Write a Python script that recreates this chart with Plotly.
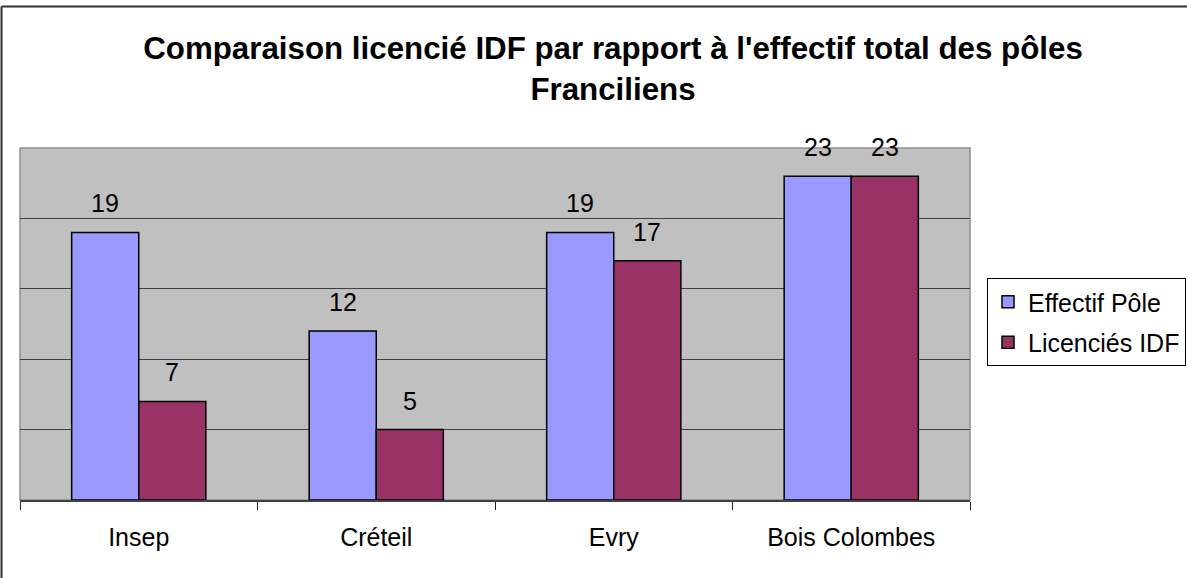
import plotly.graph_objects as go

categories = ["Insep", "Créteil", "Evry", "Bois Colombes"]
effectif_pole = [19, 12, 19, 23]
licencies_idf = [7, 5, 17, 23]
series_names = ["Effectif Pôle", "Licenciés IDF"]
title_text = "Comparaison licencié IDF par rapport à l'effectif total des pôles<br>Franciliens"

W, H = 1187, 578
ml, mr, mt, mb = 20, 217, 148, 78
plot_w = W - ml - mr
plot_h = H - mt - mb
bargap = 0.435
font_family = "Arial, Liberation Sans, sans-serif"
lab_size = 25

fig = go.Figure()
colors = ["#9999FF", "#993366"]
for name, vals, col in zip(series_names, [effectif_pole, licencies_idf], colors):
    fig.add_trace(go.Bar(
        x=categories, y=vals, name=name, legendgroup=name,
        marker=dict(color=col, line=dict(color="black", width=1.5)),
    ))

# data labels via annotations, shifted to each bar of the group
cat_px = plot_w / len(categories)
shift = cat_px * (1 - bargap) / 4
for k, vals in enumerate([effectif_pole, licencies_idf]):
    for c, v in zip(categories, vals):
        fig.add_annotation(
            x=c, y=v, text=str(v), showarrow=False,
            xshift=-shift if k == 0 else shift, yshift=13,
            yanchor="bottom", font=dict(size=lab_size, color="black", family=font_family),
        )

# outer chart border (top & left)
top_y = (plot_h + mt - 6.5) / plot_h
left_x = (1.5 - ml) / plot_w
fig.add_shape(type="line", xref="paper", yref="paper",
              x0=left_x, x1=(W - ml) / plot_w, y0=top_y, y1=top_y,
              line=dict(color="#333333", width=2), layer="above")
fig.add_shape(type="line", xref="paper", yref="paper",
              x0=left_x, x1=left_x, y0=top_y, y1=-mb / plot_h,
              line=dict(color="#333333", width=2), layer="above")
# plot area border
fig.add_shape(type="rect", xref="paper", yref="paper", x0=0, x1=1, y0=0, y1=1,
              line=dict(color="#909090", width=1.5), layer="below")

fig.update_layout(
    width=W, height=H,
    margin=dict(l=ml, r=mr, t=mt, b=mb, autoexpand=False),
    paper_bgcolor="white", plot_bgcolor="#C0C0C0",
    barmode="group", bargap=bargap, bargroupgap=0,
    title=dict(text=title_text, x=613 / W, xanchor="center", y=1 - 59 / H, yanchor="middle",
               font=dict(size=31.3, color="black", family=font_family, weight="bold")),
    font=dict(family=font_family, color="black", size=lab_size),
    legend=dict(x=(987 - ml) / plot_w, xanchor="left", y=(H - mb - 322) / plot_h, yanchor="middle",
                bordercolor="black", borderwidth=1, bgcolor="white",
                font=dict(size=lab_size), tracegroupgap=5, traceorder="grouped"),
    xaxis=dict(showline=True, linecolor="#404040", linewidth=1.5, automargin=False,
               ticks="outside", tickson="boundaries", ticklen=8, tickcolor="#202020",
               tickfont=dict(size=lab_size), showgrid=False, ticklabelstandoff=14),
    yaxis=dict(range=[0, 25], dtick=5, showgrid=True, gridcolor="#404040", gridwidth=1,
               automargin=False, showticklabels=False, zeroline=False, showline=False),
)

fig.write_html("out.html", config={"displayModeBar": False},
               post_script="document.body.style.margin='0px';document.body.style.overflow='hidden';")
